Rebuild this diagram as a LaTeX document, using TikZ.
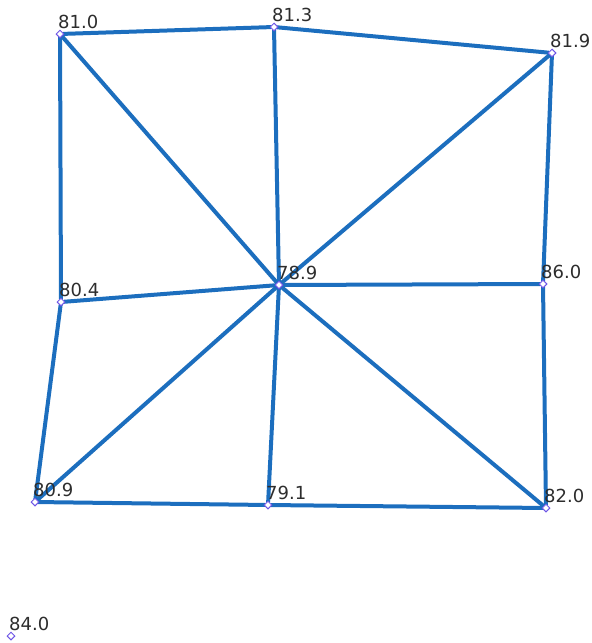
\documentclass[tikz,border=0pt]{standalone}
\usepackage{fontspec}
\setmainfont{DejaVu Sans}
\usetikzlibrary{shapes.geometric}
\definecolor{edgeblue}{RGB}{28,110,190}
\definecolor{markpurple}{RGB}{110,85,230}
\definecolor{labelgray}{RGB}{45,45,45}
\tikzset{
  pt/.style={diamond, draw=markpurple, fill=white, line width=1pt, inner sep=0pt, minimum size=8pt},
  edge/.style={draw=edgeblue, line width=4pt, shorten <=3pt, shorten >=3pt},
  val/.style={anchor=base west, font=\fontsize{18}{18}\selectfont, text=labelgray, inner sep=0pt}
}
\begin{document}
\begin{tikzpicture}[x=1pt,y=-1pt]
\useasboundingbox (0,0) rectangle (592,643);
\coordinate (a) at (60,34);
\coordinate (b) at (274,27);
\coordinate (c) at (552,53);
\coordinate (d) at (61,302);
\coordinate (e) at (279,285);
\coordinate (f) at (543,284);
\coordinate (g) at (35,502);
\coordinate (h) at (268,505);
\coordinate (i) at (546,508);
\coordinate (j) at (11,636);
\foreach \u/\v in {a/b,b/c,a/e,b/e,c/e,a/d,c/f,d/e,e/f,d/g,e/g,e/h,e/i,f/i,g/h,h/i}
  \draw[edge] (\u) -- (\v);
\foreach \p/\t in {a/81.0,b/81.3,c/81.9,d/80.4,e/78.9,f/86.0,g/80.9,h/79.1,i/82.0,j/84.0}{
  \node[pt] (m\p) at (\p) {};
  \node[val] (l\p) at ([shift={(-2,-6)}]\p) {\t};
}
\end{tikzpicture}
\end{document}
